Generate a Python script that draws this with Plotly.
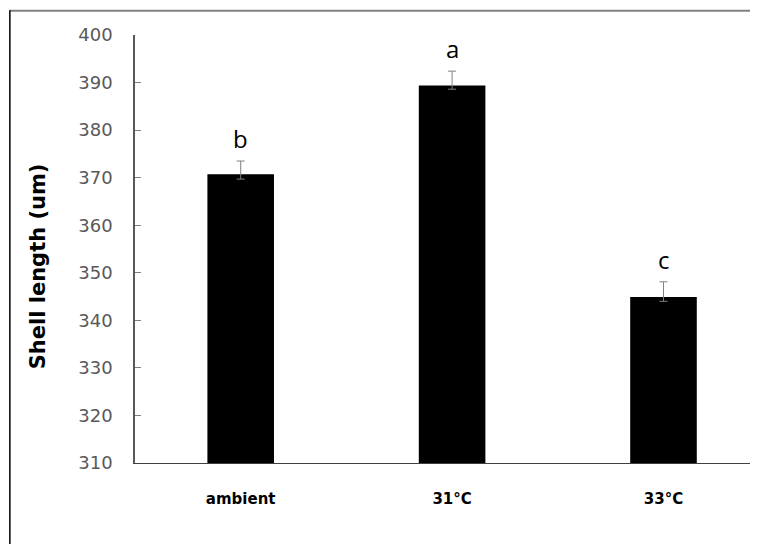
import plotly.graph_objects as go

categories = ["ambient", "31°C", "33°C"]
shell_length = [370.7, 389.4, 344.9]
err_plus = [2.8, 3.0, 3.2]
err_minus = [1.0, 0.8, 0.9]
letters = ["b", "a", "c"]
y_ticks = [310, 320, 330, 340, 350, 360, 370, 380, 390, 400]

# page body offsets the figure by 8px; work in screen pixels and subtract
OFF = 8
W, H = 758 - OFF, 544 - OFF
L, R, T = 134.7 - OFF, 0, 34.7 - OFF
B = H - (463.3 - OFF)
pw, ph = W - L - R, H - T - B

def px_x(p):
    return (p - OFF - L) / pw

def px_y(p):
    return (H - B - (p - OFF)) / ph

fig = go.Figure()
fig.add_trace(go.Bar(
    x=categories, y=shell_length, width=0.315,
    marker=dict(color="black", line=dict(width=0)),
    error_y=dict(type="data", symmetric=False, array=err_plus, arrayminus=err_minus,
                 color="#808080", thickness=1, width=4),
))

for c, v, e, lt in zip(categories, shell_length, err_plus, letters):
    fig.add_annotation(x=c, y=v + e, text=lt, showarrow=False, yanchor="bottom", yshift=4,
                       font=dict(family="Open Sans", size=24, color="black"))

fig.add_annotation(xref="paper", yref="paper", x=px_x(38), y=px_y(266), text="<b>Shell length (um)</b>",
                   textangle=-90, showarrow=False, xanchor="center", yanchor="middle",
                   font=dict(family="DejaVu Sans", size=21, color="black"))

# outer frame
fig.add_shape(type="line", xref="paper", yref="paper", x0=px_x(9), x1=px_x(770), y0=px_y(10.5), y1=px_y(10.5),
              line=dict(color="#808080", width=2))
fig.add_shape(type="line", xref="paper", yref="paper", x0=px_x(9.5), x1=px_x(9.5), y0=px_y(10), y1=px_y(560),
              line=dict(color="black", width=1.5))

fig.update_layout(
    width=W, height=H, margin=dict(l=L, r=R, t=T, b=B),
    plot_bgcolor="white", paper_bgcolor="white", showlegend=False,
    xaxis=dict(type="category", range=[-0.5, -0.5 + pw / 211.5], showgrid=False,
               showline=True, linecolor="#404040", linewidth=1, ticks="",
               tickfont=dict(family="DejaVu Sans", size=15, color="black", weight="bold"),
               ticklabelstandoff=22),
    yaxis=dict(range=[310, 400], tickvals=y_ticks, showgrid=False, zeroline=False,
               showline=True, linecolor="#595959", linewidth=1.5,
               ticks="inside", ticklen=6, tickcolor="#808080",
               tickfont=dict(family="DejaVu Sans", size=18, color="#595959"),
               ticklabelstandoff=17),
)

fig.write_html("out.html")
